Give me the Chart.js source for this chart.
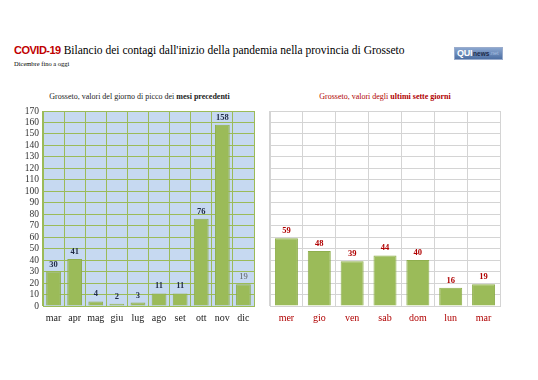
<!DOCTYPE html>
<html><head><meta charset="utf-8">
<script src="https://cdn.jsdelivr.net/npm/chart.js@4"></script>
<style>
html,body{margin:0;padding:0;background:#fff;width:538px;height:380px;overflow:hidden;position:relative;font-family:"Liberation Serif","Times New Roman",serif}
.title{position:absolute;left:14px;top:44px;font-size:11.5px;white-space:nowrap;color:#000}
.title .c{font-family:"Liberation Sans",sans-serif;font-weight:bold;color:#c00000;font-size:11px;letter-spacing:-0.5px}
.sub{position:absolute;left:14px;top:60px;font-size:6.5px;color:#000}
.logo{position:absolute;left:454px;top:47px;width:47px;height:11px;background:linear-gradient(#8aa6cf,#4d6fa3);border:1px solid #9aaccc;font-family:"Liberation Sans",sans-serif;white-space:nowrap;overflow:hidden;display:flex;align-items:center}
.logo b{color:#fff;font-size:9px;margin-left:2px;letter-spacing:-0.3px;line-height:11px}
.logo i{font-style:normal;color:#1b2a48;font-size:6.5px;font-weight:bold;line-height:11px;margin-left:1px}
.logo s{text-decoration:none;color:#a9bfe0;font-size:5.5px;line-height:11px}
.pt{position:absolute;top:92px;font-size:8px;white-space:nowrap;text-align:center}
canvas{position:absolute}
</style></head><body>
<div class="title"><span class="c">COVID-19</span> Bilancio dei contagi dall'inizio della pandemia nella provincia di Grosseto</div>
<div class="sub">Dicembre fino a oggi</div>
<div class="logo"><b>QUI</b><i>news</i><s>.net</s></div>
<div class="pt" style="left:34px;width:211px;color:#222">Grosseto, valori del giorno di picco dei <b>mesi precedenti</b></div>
<div class="pt" style="left:270px;width:230px;color:#b00000">Grosseto, valori degli <b>ultimi sette giorni</b></div>
<div style="position:absolute;left:0;top:100px;width:262px;height:232px"><canvas id="c1"></canvas></div>
<div style="position:absolute;left:262px;top:100px;width:250px;height:232px"><canvas id="c2"></canvas></div>
<script>
const monthLabels = ["mar","apr","mag","giu","lug","ago","set","ott","nov","dic"];
const monthValues = [30,41,4,2,3,11,11,76,158,19];
const dayLabels = ["mer","gio","ven","sab","dom","lun","mar"];
const dayValues = [59,48,39,44,40,16,19];
const yMax = 170, yStep = 10;

const SERIF = '"Liberation Serif", "Times New Roman", serif';
const bgPlugin = {
  id:'bg',
  beforeDraw(chart, args, opts){
    if(!opts.color) return;
    const a = chart.chartArea, ctx = chart.ctx;
    ctx.save(); ctx.fillStyle = opts.color;
    ctx.fillRect(a.left, a.top, a.right-a.left, a.bottom-a.top);
    ctx.restore();
  }
};
const labelPlugin = {
  id:'vals',
  afterDatasetsDraw(chart, args, opts){
    const ctx = chart.ctx;
    const meta = chart.getDatasetMeta(0);
    const data = chart.data.datasets[0].data;
    ctx.save();
    ctx.textAlign = 'center'; ctx.textBaseline = 'bottom';
    meta.data.forEach((bar,i)=>{
      const special = opts.lastPlain && i === data.length-1;
      ctx.font = (special ? '' : 'bold ') + '8.5px ' + SERIF;
      ctx.fillStyle = special ? '#595959' : opts.color;
      ctx.fillText(String(data[i]), bar.x, bar.y - 3);
    });
    ctx.restore();
  }
};
Chart.register(bgPlugin, labelPlugin);

function makeChart(id, labels, values, cfg){
  return new Chart(document.getElementById(id), {
    type:'bar',
    data:{labels, datasets:[{data:values, backgroundColor:'#9bbb59', borderColor:'#8eae4d', borderWidth:1, categoryPercentage:1, barPercentage:0.7}]},
    options:{
      responsive:true, maintainAspectRatio:false, animation:false,
      layout:{padding:{top:11,right:cfg.padRight,left:0,bottom:0}},
      plugins:{legend:{display:false}, tooltip:{enabled:false}, bg:{color:cfg.bg}, vals:{color:cfg.valColor, lastPlain:cfg.lastPlain}},
      scales:{
        x:{
          grid:{color:cfg.grid, drawTicks:false, offset:true},
          border:{color:cfg.grid},
          ticks:{padding:6, color:cfg.xColor, font:{family:SERIF, size:10}, maxRotation:0, autoSkip:false},
          afterFit(s){ s.height = 26; }
        },
        y:{
          min:0, max:yMax,
          grid:{color:cfg.grid, drawTicks:false},
          border:{color:cfg.grid},
          ticks:{display:cfg.showY, stepSize:yStep, autoSkip:false, padding:4, color:'#333', font:{family:SERIF, size:9.5}},
          afterFit(s){ s.width = cfg.yWidth; }
        }
      }
    }
  });
}
makeChart('c1', monthLabels, monthValues, {padRight:8, bg:'#c6d9f1', grid:'#9bbb59', xColor:'#222', valColor:'#1f2a44', lastPlain:true, showY:true, yWidth:43});
makeChart('c2', dayLabels, dayValues, {padRight:12, bg:null, grid:'#d4d4d4', xColor:'#b00000', valColor:'#b00000', lastPlain:false, showY:false, yWidth:8});
</script>
</body></html>
